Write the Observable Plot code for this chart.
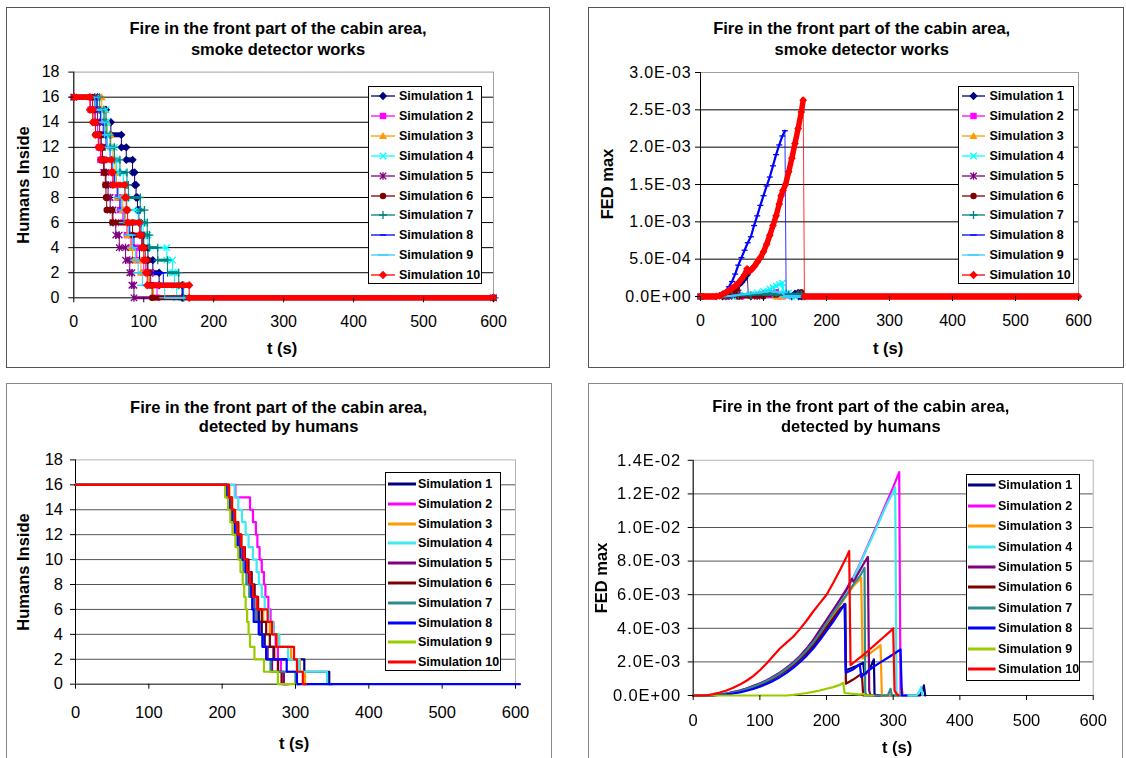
<!DOCTYPE html>
<html>
<head>
<meta charset="utf-8">
<script src="https://cdn.jsdelivr.net/npm/d3@7"></script>
<script src="https://cdn.jsdelivr.net/npm/@observablehq/plot@0.6"></script>
<style>
  html, body { margin: 0; padding: 0; background: #fff; }
  #page { position: relative; width: 1126px; height: 758px; overflow: hidden;
          font-family: Arial, "Liberation Sans", sans-serif; color: #000; }
  .abs { position: absolute; box-sizing: border-box; }
  .txt { position: absolute; white-space: nowrap; font-weight: bold; line-height: 1; }
</style>
</head>
<body>
<div id="page"></div>
<script>
// ---------- text ----------
const titleLine = "Fire in the front part of the cabin area,";
const subtitleSmoke = "smoke detector works";
const subtitleHumans = "detected by humans";
const simNames = ["Simulation 1", "Simulation 2", "Simulation 3", "Simulation 4", "Simulation 5",
                  "Simulation 6", "Simulation 7", "Simulation 8", "Simulation 9", "Simulation 10"];

// ---------- ticks ----------
const xTicks = [0, 100, 200, 300, 400, 500, 600];
const humansTicks = [0, 2, 4, 6, 8, 10, 12, 14, 16, 18];
const fedSmokeTicks = [0, 0.0005, 0.001, 0.0015, 0.002, 0.0025, 0.003];
const fedHumansTicks = [0, 0.002, 0.004, 0.006, 0.008, 0.01, 0.012, 0.014];

// ---------- humans inside, smoke detector works: [t (s), count from t on] ----------
const humansSmoke = [
  [[0,16],[34,15],[46,14],[53,13],[68,12],[75,11],[84,10],[87,9],[89,8],[91,7],[93,6],[96,5],[100,4],[106,3],[113,2],[122,1],[155,0],[600,0]],
  [[0,16],[24,15],[31,14],[34,13],[36,12],[38,11],[43,10],[56,9],[63,8],[66,7],[70,6],[76,5],[82,4],[90,3],[100,2],[110,1],[119,0],[600,0]],
  [[0,16],[40,15],[44,14],[48,13],[53,12],[56,11],[59,10],[61,9],[63,8],[70,7],[74,6],[77,5],[81,4],[84,3],[96,2],[107,1],[114,0],[600,0]],
  [[0,16],[33,15],[46,14],[47,13],[48,12],[58,11],[61,10],[71,9],[74,8],[76,7],[92,6],[99,5],[106,4],[133,3],[141,2],[144,1],[147,0],[600,0]],
  [[0,16],[30,15],[34,14],[37,13],[39,12],[41,11],[43,10],[46,9],[49,8],[52,7],[56,6],[60,5],[65,4],[74,3],[80,2],[83,1],[86,0],[600,0]],
  [[0,16],[27,15],[29,14],[31,13],[39,12],[41,11],[43,10],[45,9],[46,8],[47,7],[55,6],[84,5],[98,4],[102,3],[106,2],[109,1],[112,0],[600,0]],
  [[0,16],[37,15],[43,14],[46,13],[52,12],[58,11],[66,10],[76,9],[78,8],[95,7],[101,6],[105,5],[108,4],[120,3],[134,2],[150,1],[157,0],[600,0]],
  [[0,16],[32,15],[38,14],[42,13],[46,12],[52,11],[55,10],[58,9],[62,8],[66,7],[72,6],[80,5],[86,4],[94,3],[105,2],[128,1],[155,0],[600,0]],
  [[0,16],[30,15],[40,14],[44,13],[48,12],[52,11],[56,10],[60,9],[64,8],[68,7],[72,6],[78,5],[84,4],[88,3],[92,2],[98,1],[130,0],[600,0]],
  [[0,16],[23,15],[27,14],[31,13],[35,12],[39,11],[54,10],[56,9],[73,8],[75,7],[77,6],[94,5],[97,4],[100,3],[103,2],[105,1],[165,0],[600,0]]
];

// ---------- FED max, smoke detector works: [t (s), FED in units of 1E-03] ----------
const fedSmoke = [
  [[0,0],[35,0],[40,0.02],[45,0.05],[50,0.08],[55,0.11],[60,0.15],[65,0.19],[70,0.24],[74,0.29],[76,0.02],[80,0],[145,0],[150,0.04],[155,0.05],[156,0],[160,0]],
  [[0,0],[40,0],[45,0.03],[50,0.07],[55,0.12],[58,0.16],[60,0.02],[65,0],[110,0.02],[115,0.04],[120,0.06],[122,0],[130,0]],
  [[0,0],[60,0],[80,0.01],[100,0.02],[110,0.03],[118,0.04],[120,0],[130,0]],
  [[0,0],[50,0],[60,0.01],[70,0.02],[80,0.03],[90,0.05],[100,0.07],[110,0.1],[115,0.12],[120,0.14],[125,0.16],[130,0.18],[132,0.05],[135,0.02],[140,0.05],[145,0],[150,0]],
  [[0,0],[45,0],[50,0.02],[55,0.04],[60,0.05],[62,0],[90,0]],
  [[0,0],[40,0],[45,0.03],[50,0.06],[55,0.09],[58,0.1],[60,0],[100,0],[110,0.03],[120,0.02],[155,0.03],[160,0.06],[162,0],[165,0]],
  [[0,0],[40,0],[50,0.01],[60,0.02],[80,0.02],[100,0.03],[120,0.03],[140,0.03],[155,0.03],[160,0.03],[162,0]],
  [[0,0],[30,0],[35,0.03],[40,0.07],[45,0.13],[50,0.2],[55,0.3],[60,0.42],[65,0.52],[70,0.62],[75,0.72],[80,0.8],[85,0.95],[90,1.08],[95,1.22],[100,1.35],[105,1.48],[110,1.6],[115,1.75],[120,1.9],[125,2.03],[130,2.15],[134,2.22],[136,0],[160,0]],
  [[0,0],[30,0],[50,0.01],[70,0.03],[90,0.05],[100,0.06],[110,0.07],[120,0.06],[130,0.05],[134,0],[160,0]],
  [[0,0],[25,0],[30,0.01],[35,0.03],[40,0.05],[45,0.08],[50,0.11],[55,0.14],[60,0.18],[65,0.23],[70,0.29],[74,0.37],[78,0.34],[82,0.37],[86,0.41],[90,0.46],[95,0.52],[100,0.6],[105,0.7],[110,0.82],[115,0.95],[120,1.08],[125,1.24],[128,1.35],[131,1.42],[135,1.5],[140,1.67],[145,1.85],[150,2.05],[155,2.25],[160,2.47],[163,2.63],[165,0],[600,0]]
];

// ---------- humans inside, fire detected by humans: [t (s), count from t on] ----------
const humansDetected = [
  [[0,16],[207,15],[212,14],[216,13],[220,12],[224,11],[228,10],[234,9],[240,8],[244,7],[247,6],[250,5],[254,4],[258,3],[270,2],[312,1],[346,0],[350,0]],
  [[0,16],[218,15],[238,14],[242,13],[246,12],[248,11],[251,10],[254,9],[257,8],[259,7],[263,6],[266,5],[270,4],[273,3],[276,2],[280,1],[284,0],[290,0]],
  [[0,16],[210,15],[214,14],[218,13],[222,12],[226,11],[230,10],[234,9],[238,8],[242,7],[248,6],[256,5],[265,4],[277,3],[294,2],[306,1],[313,0],[318,0]],
  [[0,16],[217,15],[222,14],[227,13],[232,12],[236,11],[242,10],[247,9],[250,8],[254,7],[258,6],[264,5],[270,4],[278,3],[290,2],[305,1],[343,0],[348,0]],
  [[0,16],[206,15],[210,14],[214,13],[219,12],[223,11],[227,10],[232,9],[236,8],[239,7],[243,6],[247,5],[251,4],[256,3],[262,2],[268,1],[284,0],[290,0]],
  [[0,16],[209,15],[213,14],[217,13],[222,12],[226,11],[231,10],[236,9],[240,8],[244,7],[249,6],[254,5],[260,4],[265,3],[271,2],[276,1],[281,0],[286,0]],
  [[0,16],[207,15],[211,14],[214,13],[218,12],[221,11],[225,10],[229,9],[233,8],[237,7],[242,6],[246,5],[250,4],[255,3],[260,2],[266,1],[300,0],[305,0]],
  [[0,16],[206,15],[210,14],[213,13],[217,12],[221,11],[224,10],[232,9],[238,8],[240,7],[241,6],[243,5],[250,4],[255,3],[260,2],[288,1],[302,0],[606,0]],
  [[0,16],[204,15],[208,14],[211,13],[214,12],[218,11],[222,10],[225,9],[228,8],[230,7],[232,6],[234,5],[236,4],[238,3],[244,2],[257,1],[276,0],[300,0]],
  [[0,16],[209,15],[213,14],[217,13],[221,12],[226,11],[230,10],[234,9],[238,8],[242,7],[248,6],[262,5],[268,4],[274,3],[298,2],[302,1],[310,0],[314,0]]
];

// ---------- FED max, fire detected by humans: [t (s), FED in units of 1E-03] ----------
const fedDetected = [
  [[0,0],[20,0],[30,0.02],[40,0.05],[50,0.1],[60,0.16],[70,0.24],[80,0.34],[90,0.46],[100,0.62],[110,0.8],[120,1.0],[130,1.24],[140,1.5],[150,1.8],[160,2.14],[170,2.52],[180,2.95],[190,3.45],[200,4.0],[210,4.55],[220,5.1],[228,5.45],[229,1.5],[245,1.75],[255,1.95],[257,1.2],[265,1.6],[271,2.15],[272,0.1],[275,0],[340,0],[344,0.3],[346,0.6],[348,0]],
  [[0,0],[20,0],[30,0.02],[40,0.06],[50,0.12],[60,0.2],[70,0.3],[80,0.42],[90,0.56],[100,0.72],[110,0.9],[120,1.12],[130,1.36],[140,1.64],[150,1.96],[160,2.34],[170,2.78],[180,3.28],[190,3.85],[200,4.45],[210,5.05],[220,5.7],[230,6.35],[240,7.0],[250,7.85],[260,8.75],[270,9.65],[280,10.55],[290,11.5],[300,12.4],[309,13.3],[311,0],[320,0]],
  [[0,0],[20,0],[30,0.02],[40,0.05],[50,0.1],[60,0.17],[70,0.26],[80,0.37],[90,0.5],[100,0.66],[110,0.84],[120,1.05],[130,1.28],[140,1.55],[150,1.86],[160,2.2],[170,2.6],[180,3.05],[190,3.6],[200,4.15],[210,4.75],[220,5.35],[230,5.95],[240,6.5],[252,7.0],[254,2.2],[265,2.5],[275,2.8],[281,3.0],[283,0],[310,0],[313,0.4],[315,0]],
  [[0,0],[20,0],[30,0.02],[40,0.06],[50,0.12],[60,0.2],[70,0.3],[80,0.42],[90,0.56],[100,0.72],[110,0.9],[120,1.11],[130,1.35],[140,1.62],[150,1.94],[160,2.32],[170,2.76],[180,3.25],[190,3.8],[200,4.4],[210,5.0],[220,5.65],[230,6.3],[240,6.95],[250,7.8],[260,8.7],[270,9.55],[280,10.45],[290,11.35],[300,12.1],[303,12.4],[305,0],[335,0],[340,0.3],[342,0.5],[344,0]],
  [[0,0],[20,0],[30,0.02],[40,0.06],[50,0.12],[60,0.2],[70,0.3],[80,0.42],[90,0.56],[100,0.72],[110,0.9],[120,1.12],[130,1.36],[140,1.64],[150,1.96],[160,2.34],[170,2.78],[180,3.3],[190,3.9],[200,4.5],[210,5.1],[220,5.7],[230,6.3],[238,6.95],[241,6.75],[245,7.1],[250,7.45],[255,7.8],[262,8.25],[264,0.3],[266,0],[280,0]],
  [[0,0],[20,0],[30,0.02],[40,0.05],[50,0.1],[60,0.17],[70,0.25],[80,0.35],[90,0.48],[100,0.64],[110,0.82],[120,1.02],[130,1.26],[140,1.52],[150,1.82],[160,2.16],[170,2.55],[180,3.0],[190,3.5],[200,4.05],[210,4.6],[220,5.15],[228,5.4],[229,0.7],[240,0.95],[253,1.3],[255,0],[280,0]],
  [[0,0],[20,0],[30,0.02],[40,0.05],[50,0.11],[60,0.18],[70,0.27],[80,0.38],[90,0.52],[100,0.68],[110,0.86],[120,1.07],[130,1.31],[140,1.58],[150,1.9],[160,2.26],[170,2.68],[180,3.15],[190,3.7],[200,4.3],[210,4.9],[220,5.45],[230,6.0],[240,6.6],[250,7.1],[257,7.6],[258,0.2],[260,0],[292,0],[296,0.4],[298,0],[310,0]],
  [[0,0],[30,0],[40,0.03],[50,0.07],[60,0.12],[70,0.19],[80,0.28],[90,0.39],[100,0.52],[110,0.68],[120,0.87],[130,1.09],[140,1.35],[150,1.64],[160,1.98],[170,2.36],[180,2.8],[190,3.3],[200,3.85],[210,4.4],[220,5.0],[227,5.45],[229,1.35],[240,1.55],[250,1.85],[252,1.1],[262,1.45],[272,1.75],[282,2.0],[292,2.25],[302,2.5],[311,2.75],[313,0],[320,0]],
  [[0,0],[140,0],[150,0.04],[160,0.09],[170,0.15],[180,0.22],[190,0.3],[200,0.4],[210,0.5],[220,0.63],[225,0.75],[227,0.15],[240,0.1],[250,0.05],[255,0.1],[258,0],[270,0]],
  [[0,0],[20,0],[30,0.08],[40,0.18],[50,0.3],[60,0.46],[70,0.65],[80,0.88],[90,1.15],[100,1.5],[110,1.9],[120,2.35],[130,2.8],[140,3.15],[150,3.5],[160,3.95],[170,4.45],[180,5.0],[190,5.5],[200,6.0],[210,6.7],[220,7.45],[230,8.25],[234,8.6],[236,1.8],[245,2.1],[255,2.4],[265,2.75],[275,3.1],[285,3.45],[295,3.8],[300,4.0],[302,0.3],[305,0.1],[308,0]]
];

// ---------- series styles ----------
const topColors = ["#000080", "#FF00FF", "#FF9900", "#00FFFF", "#800080", "#800000", "#008080", "#0000FF", "#33CCFF", "#FF0000"];
const bottomColors = ["#000080", "#FF00FF", "#FF9900", "#40E8F0", "#800080", "#800000", "#2E8B8B", "#0000FF", "#99CC00", "#FF0000"];
const topMarkers = ["diamond", "square", "triangle", "times", "asterisk", "circle", "plus", "dash", "longdash", "diamond"];
const stepBands = [5, 4.5, 4.5, 2.5, 3, 5, 3, 1.8, 2.2, 5.5];
const curveBands = [2.5, 3, 3, 2, 2, 3, 2, 2.2, 2, 5.5];

// marker shapes, usable both as Plot dot symbols and in the legend
const rad = s => Math.sqrt(s / Math.PI);
const markerShapes = {
  diamond:  {draw(c, s) { const r = rad(s) * 1.3; c.moveTo(0, -r); c.lineTo(r, 0); c.lineTo(0, r); c.lineTo(-r, 0); c.closePath(); }},
  square:   {draw(c, s) { const r = rad(s); c.rect(-r, -r, 2 * r, 2 * r); }},
  triangle: {draw(c, s) { const r = rad(s) * 1.25; c.moveTo(0, -r); c.lineTo(r, r * 0.75); c.lineTo(-r, r * 0.75); c.closePath(); }},
  times:    {draw(c, s) { const r = rad(s); c.moveTo(-r, -r); c.lineTo(r, r); c.moveTo(r, -r); c.lineTo(-r, r); }},
  asterisk: {draw(c, s) { const r = rad(s); c.moveTo(-r, -r); c.lineTo(r, r); c.moveTo(r, -r); c.lineTo(-r, r); c.moveTo(0, -r * 1.2); c.lineTo(0, r * 1.2); }},
  circle:   {draw(c, s) { const r = rad(s); c.moveTo(r, 0); c.arc(0, 0, r, 0, 2 * Math.PI); }},
  plus:     {draw(c, s) { const r = rad(s) * 1.25; c.moveTo(-r, 0); c.lineTo(r, 0); c.moveTo(0, -r); c.lineTo(0, r); }},
  dash:     {draw(c, s) { const r = rad(s); c.moveTo(-r, 0); c.lineTo(r, 0); }},
  longdash: {draw(c, s) { const r = rad(s) * 1.7; c.moveTo(-r, 0); c.lineTo(r, 0); }}
};
const filledMarkers = new Set(["diamond", "square", "triangle", "circle"]);
const markerStyle = (name, color) => filledMarkers.has(name)
  ? {fill: color, stroke: "none"}
  : {fill: "none", stroke: color, strokeWidth: 1.3};

// scientific labels such as 2.5E-03
const sci = v => {
  const [m, e] = v.toExponential(1).split("e");
  const n = +e;
  return `${m}E${n < 0 ? "-" : "+"}${String(Math.abs(n)).padStart(2, "0")}`;
};

// ---------- page layout ----------
const layout = {
  tl: {left: 6, top: 7, w: 544, h: 361, frame: [73.3, 71.6, 493, 297.3], xPad: 12.7, yPad: 9.3, fs: 16,
       border: "#555", frameColor: "#a0a0a0", grid: "#000",
       title: [278, 28.3, 20.7], xLab: [282, 348], yLab: [23, 185],
       legend: {left: 368, top: 86, w: 114, h: 198, row0: 96.3, step: 19.86, line0: 371, line1: 395, textX: 399, lw: 1.3}},
  tr: {left: 588, top: 7, w: 536, h: 361, frame: [700, 72, 1078, 296], xPad: 13.3, yPad: 4, fs: 16,
       border: "#555", frameColor: "#a0a0a0", grid: "#000",
       title: [861.7, 28.3, 20.7], xLab: [888, 348], yLab: [607, 184],
       legend: {left: 958, top: 86, w: 116, h: 198, row0: 96.3, step: 19.86, line0: 962, line1: 985, textX: 989.5, lw: 1.3}},
  bl: {left: 6, top: 383, w: 546, h: 380, frame: [75, 459.4, 515, 683.7], xPad: 17.3, yPad: 7.5, fs: 16.5,
       border: "#8a8a8a", frameColor: "#b4b4b4", grid: "#555",
       title: [278.6, 406.7, 19.5], xLab: [294, 742.7], yLab: [23, 571.7],
       legend: {left: 384.6, top: 472.3, w: 116.4, h: 198.7, row0: 484, step: 19.8, line0: 388, line1: 416, textX: 418, lw: 3}},
  br: {left: 588, top: 383, w: 535, h: 380, frame: [692.7, 459.8, 1092.7, 695], xPad: 13.6, yPad: 7, fs: 16.5,
       border: "#8a8a8a", frameColor: "#b4b4b4", grid: "#555",
       title: [860.8, 406, 20], xLab: [897, 746.7], yLab: [601, 577.5],
       legend: {left: 966, top: 474.3, w: 113.6, h: 206.7, row0: 485.3, step: 20.4, line0: 968, line1: 995.5, textX: 998, lw: 3}}
};

const page = document.getElementById("page");
const SVGNS = "http://www.w3.org/2000/svg";

function layer(blur) {
  const g = document.createElement("div");
  g.className = "abs";
  g.style.cssText += `left:0;top:0;width:1126px;height:758px;${blur ? `filter:blur(${blur}px);` : ""}`;
  page.appendChild(g);
  return g;
}

function label(parent, str, x, y, size, rotate) {
  const d = document.createElement("div");
  d.className = "txt";
  d.textContent = str;
  d.style.left = x + "px";
  d.style.top = y + "px";
  d.style.fontSize = size + "px";
  d.style.transform = `translate(-50%,-50%)${rotate ? " rotate(-90deg)" : ""}`;
  parent.appendChild(d);
}

function panelChrome(parent, L, sub, yName) {
  const b = document.createElement("div");
  b.className = "abs";
  b.style.cssText += `left:${L.left}px;top:${L.top}px;width:${L.w}px;height:${L.h}px;border:1px solid ${L.border};background:#fff;`;
  parent.appendChild(b);
  const [cx, y1, lh] = L.title;
  label(parent, titleLine, cx, y1, 16.5);
  label(parent, sub, cx, y1 + lh, 16.5);
  label(parent, "t (s)", L.xLab[0], L.xLab[1], 16.5);
  label(parent, yName, L.yLab[0], L.yLab[1], 16.5, true);
}

function legend(parent, G, colors, markers) {
  const b = document.createElement("div");
  b.className = "abs";
  b.style.cssText += `left:${G.left}px;top:${G.top}px;width:${G.w}px;height:${G.h}px;border:1px solid #000;background:#fff;`;
  parent.appendChild(b);
  simNames.forEach((name, i) => {
    const y = G.row0 + i * G.step;
    const w = G.line1 - G.line0;
    const s = document.createElementNS(SVGNS, "svg");
    s.setAttribute("width", w);
    s.setAttribute("height", 14);
    s.style.cssText = `position:absolute;left:${G.line0}px;top:${y - 7}px;overflow:visible;`;
    const ln = document.createElementNS(SVGNS, "line");
    ln.setAttribute("x1", 0); ln.setAttribute("x2", w);
    ln.setAttribute("y1", 7); ln.setAttribute("y2", 7);
    ln.setAttribute("stroke", colors[i]);
    ln.setAttribute("stroke-width", G.lw);
    s.appendChild(ln);
    if (markers) {
      const p = d3.path();
      markerShapes[markers[i]].draw(p, Math.PI * 3.2 * 3.2);
      const pe = document.createElementNS(SVGNS, "path");
      pe.setAttribute("d", p.toString());
      pe.setAttribute("transform", `translate(${w / 2},7)`);
      const st = markerStyle(markers[i], colors[i]);
      pe.setAttribute("fill", st.fill);
      pe.setAttribute("stroke", st.stroke);
      if (st.strokeWidth) pe.setAttribute("stroke-width", st.strokeWidth);
      s.appendChild(pe);
    }
    parent.appendChild(s);
    const t = document.createElement("div");
    t.className = "txt";
    t.textContent = name;
    t.style.cssText += `left:${G.textX}px;top:${y}px;font-size:12.5px;transform:translateY(-50%);`;
    parent.appendChild(t);
  });
}

function drawPlot(parent, L, yDomain, yTicks, yFormat, marks, letterSpacing) {
  const [fx0, fy0, fx1, fy1] = L.frame;
  const svg = Plot.plot({
    width: L.w, height: L.h,
    marginLeft: fx0 - L.left, marginTop: fy0 - L.top,
    marginRight: L.left + L.w - fx1, marginBottom: L.top + L.h - fy1,
    style: {fontFamily: "Arial, 'Liberation Sans', sans-serif", background: "transparent", color: "#000", overflow: "visible"},
    x: {domain: [0, 600]},
    y: {domain: yDomain},
    marks: [
      Plot.frame({stroke: L.frameColor}),
      Plot.ruleY(yTicks.filter(v => v > 0 && v < yDomain[1]), {stroke: L.grid, strokeWidth: 1}),
      Plot.ruleX([0], {stroke: "#000"}),
      Plot.ruleY([0], {stroke: "#222"}),
      ...marks,
      Plot.axisX(xTicks, {tickSize: 5, tickPadding: L.xPad, fontSize: L.fs, label: null}),
      Plot.axisY(yTicks, {tickSize: 5, tickPadding: L.yPad, fontSize: L.fs, label: null, tickFormat: yFormat})
    ]
  });
  svg.style.position = "absolute";
  svg.style.left = L.left + "px";
  svg.style.top = L.top + "px";
  if (letterSpacing) svg.querySelectorAll('[aria-label="y-axis tick label"] text').forEach(t => t.style.letterSpacing = letterSpacing);
  parent.appendChild(svg);
}

const X = d => d[0];

// step series with a dense marker band along each plateau
function stepWithMarkers(series, i) {
  const color = topColors[i], name = topMarkers[i];
  const runs = [];
  for (let k = 0; k < series.length - 1; k++)
    if (series[k + 1][0] > series[k][0]) runs.push({x1: series[k][0], x2: series[k + 1][0], y: series[k][1]});
  const ends = runs.flatMap(d => [{t: d.x1, v: d.y}, {t: d.x2, v: d.y}]);
  return [
    Plot.line(series, {x: X, y: d => d[1], curve: "step-after", stroke: color, strokeWidth: 1}),
    Plot.ruleY(runs, {y: "y", x1: "x1", x2: "x2", stroke: color, strokeWidth: stepBands[i]}),
    Plot.dot(ends, {x: "t", y: "v", r: 3.2, symbol: markerShapes[name], ...markerStyle(name, color)})
  ];
}

// FED curve with markers at each sample; the marker band breaks at sudden drops
function curveWithMarkers(series, i) {
  const color = topColors[i], name = topMarkers[i];
  const pts = series.map(d => ({t: d[0], v: d[1] * 1e-3}));
  let seg = 0;
  const banded = pts.map((p, k) => {
    if (k > 0 && pts[k - 1].v - p.v > 0.25e-3) seg++;
    return {...p, seg};
  });
  const flats = [];
  for (let k = 0; k < pts.length - 1; k++)
    if (pts[k].v === pts[k + 1].v) flats.push({x1: pts[k].t, x2: pts[k + 1].t, y: pts[k].v});
  return [
    Plot.line(pts, {x: "t", y: "v", stroke: color, strokeWidth: 1, strokeOpacity: 0.8}),
    Plot.line(banded, {x: "t", y: "v", z: "seg", stroke: color, strokeWidth: curveBands[i]}),
    Plot.ruleY(flats, {y: "y", x1: "x1", x2: "x2", stroke: color, strokeWidth: curveBands[i] + 1}),
    Plot.dot(pts, {x: "t", y: "v", r: 3, symbol: markerShapes[name], ...markerStyle(name, color)})
  ];
}

// ---------- top row: smoke detector works ----------
const topLayer = layer(0);
panelChrome(topLayer, layout.tl, subtitleSmoke, "Humans Inside");
drawPlot(topLayer, layout.tl, [0, 18], humansTicks, d => d, humansSmoke.flatMap(stepWithMarkers));
legend(topLayer, layout.tl.legend, topColors, topMarkers);

panelChrome(topLayer, layout.tr, subtitleSmoke, "FED max");
drawPlot(topLayer, layout.tr, [0, 0.003], fedSmokeTicks, sci, fedSmoke.flatMap(curveWithMarkers), "0.9px");
legend(topLayer, layout.tr.legend, topColors, topMarkers);

// ---------- bottom row: fire detected by humans ----------
const bottomLayer = layer(0.45);
panelChrome(bottomLayer, layout.bl, subtitleHumans, "Humans Inside");
drawPlot(bottomLayer, layout.bl, [0, 18], humansTicks, d => d,
  humansDetected.map((s, i) => Plot.line(s, {x: X, y: d => d[1], curve: "step-after", stroke: bottomColors[i], strokeWidth: 2.2})));
legend(bottomLayer, layout.bl.legend, bottomColors, null);

panelChrome(bottomLayer, layout.br, subtitleHumans, "FED max");
drawPlot(bottomLayer, layout.br, [0, 0.014], fedHumansTicks, sci,
  fedDetected.map((s, i) => Plot.line(s, {x: X, y: d => d[1] * 1e-3, stroke: bottomColors[i], strokeWidth: 2.2})), "0.9px");
legend(bottomLayer, layout.br.legend, bottomColors, null);
</script>
</body>
</html>
